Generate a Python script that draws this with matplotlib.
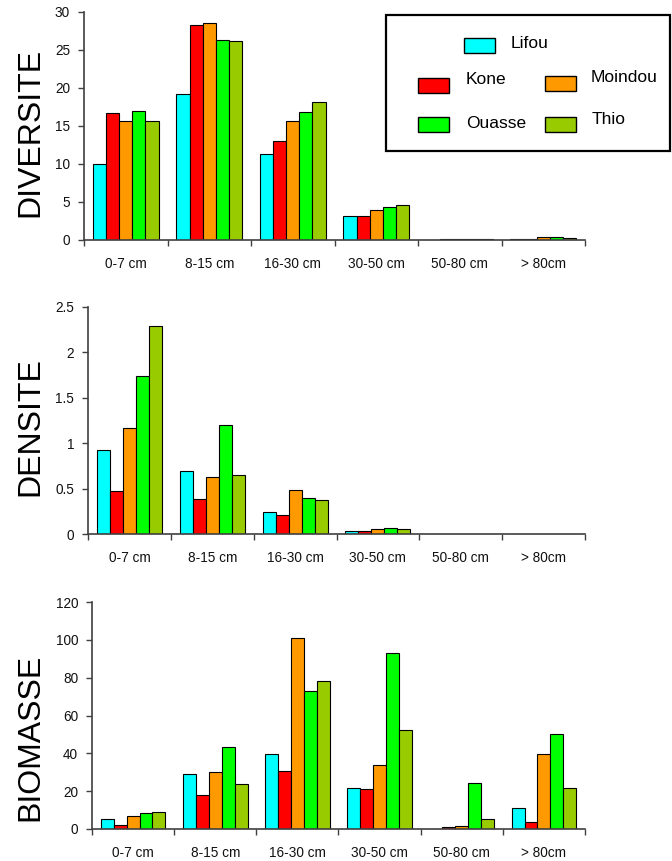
import matplotlib.pyplot as plt
from matplotlib.patches import Rectangle
from matplotlib.ticker import FuncFormatter
import numpy as np

plt.rcParams['font.family'] = ['Liberation Sans', 'DejaVu Sans']

depths = ['0-7 cm', '8-15 cm', '16-30 cm', '30-50 cm', '50-80 cm', '> 80cm']
sites = ['Lifou', 'Kone', 'Moindou', 'Ouasse', 'Thio']
colors = ['#00FFFF', '#FF0000', '#FF9900', '#00FF00', '#99CC00']

# one list per site, values by depth class
diversite = {
    'Lifou':   [10.0, 19.2, 11.3, 3.1, 0.0, 0.1],
    'Kone':    [16.7, 28.3, 13.0, 3.1, 0.1, 0.1],
    'Moindou': [15.6, 28.5, 15.6, 4.0, 0.1, 0.4],
    'Ouasse':  [17.0, 26.3, 16.8, 4.3, 0.1, 0.4],
    'Thio':    [15.6, 26.2, 18.2, 4.6, 0.1, 0.3],
}
densite = {
    'Lifou':   [0.92, 0.69, 0.245, 0.03, 0.0, 0.0],
    'Kone':    [0.476, 0.39, 0.21, 0.03, 0.0, 0.0],
    'Moindou': [1.17, 0.63, 0.49, 0.05, 0.0, 0.0],
    'Ouasse':  [1.74, 1.20, 0.40, 0.07, 0.0, 0.0],
    'Thio':    [2.29, 0.65, 0.37, 0.055, 0.0, 0.0],
}
biomasse = {
    'Lifou':   [5.3, 29.0, 39.9, 21.6, 0.0, 11.2],
    'Kone':    [2.3, 17.9, 30.8, 21.1, 1.05, 3.5],
    'Moindou': [6.9, 30.0, 101.2, 33.9, 1.6, 39.4],
    'Ouasse':  [8.3, 43.6, 72.9, 93.0, 24.3, 50.3],
    'Thio':    [8.8, 24.0, 78.4, 52.5, 5.3, 21.6],
}

W, H = 672, 861
fig = plt.figure(figsize=(W / 100, H / 100), dpi=100)


def px_axes(left, right, top, bottom):
    return fig.add_axes([left / W, 1 - bottom / H, (right - left) / W, (bottom - top) / H])


panels = [
    (diversite, 'DIVERSITE', (0, 30), np.arange(0, 31, 5), (84, 585, 12, 240), 132),
    (densite, 'DENSITE', (0, 2.5), np.arange(0, 2.51, 0.5), (88, 585, 307, 534), 427),
    (biomasse, 'BIOMASSE', (0, 120), np.arange(0, 121, 20), (92, 585, 602, 829), 737),
]

bw = 0.157
centers = np.arange(len(depths)) + 0.5
spine_col = '#404040'

for data, label, ylim, yticks, box, ylab_y in panels:
    ax = px_axes(*box)
    for j, s in enumerate(sites):
        ax.bar(centers + (j - 2) * bw, data[s], width=bw, color=colors[j],
               edgecolor='black', linewidth=0.8, zorder=3)
    ax.set_xlim(0, len(depths))
    ax.set_ylim(*ylim)
    ax.set_yticks(yticks)
    ax.yaxis.set_major_formatter(FuncFormatter(lambda v, p: f'{v:g}'))
    ax.set_xticks(centers)
    ax.set_xticklabels(depths)
    ax.set_xticks(np.arange(len(depths) + 1), minor=True)
    ax.tick_params(axis='x', which='major', length=0, pad=12, labelsize=9.8,
                   labelcolor='#111111')
    ax.tick_params(axis='x', which='minor', length=4, direction='out', color=spine_col, width=1)
    ax.tick_params(axis='y', length=4, direction='out', color=spine_col, width=1,
                   pad=6, labelsize=9.8, labelcolor='#111111')
    for sp in ['top', 'right']:
        ax.spines[sp].set_visible(False)
    for sp in ['left', 'bottom']:
        ax.spines[sp].set_color(spine_col)
        ax.spines[sp].set_linewidth(1.2)
    ax.spines['bottom'].set_zorder(4)
    fig.text(30 / W, 1 - ylab_y / H, label, rotation=90, fontsize=23,
             ha='center', va='center')

# legend box, drawn by hand to keep the original's 1 + 2 + 2 layout
fig.patches.append(Rectangle((386 / W, 1 - 151 / H), (670 - 386) / W, (151 - 15) / H,
                             transform=fig.transFigure, fill=False,
                             edgecolor='black', linewidth=1.6))
leg_items = [
    ('Lifou', 464, 45, 511, 43),
    ('Kone', 418, 85, 466, 80),
    ('Moindou', 545, 83, 591, 77),
    ('Ouasse', 418, 124, 466, 123),
    ('Thio', 545, 124, 592, 120),
]
for name, px, py, tx, ty in leg_items:
    c = colors[sites.index(name)]
    fig.patches.append(Rectangle((px / W, 1 - (py + 7.5) / H), 31 / W, 15 / H,
                                 transform=fig.transFigure, facecolor=c,
                                 edgecolor='black', linewidth=1))
    fig.text(tx / W, 1 - ty / H, name, fontsize=12.5, ha='left', va='center')

fig.savefig('out.png', dpi=100, facecolor='white')
